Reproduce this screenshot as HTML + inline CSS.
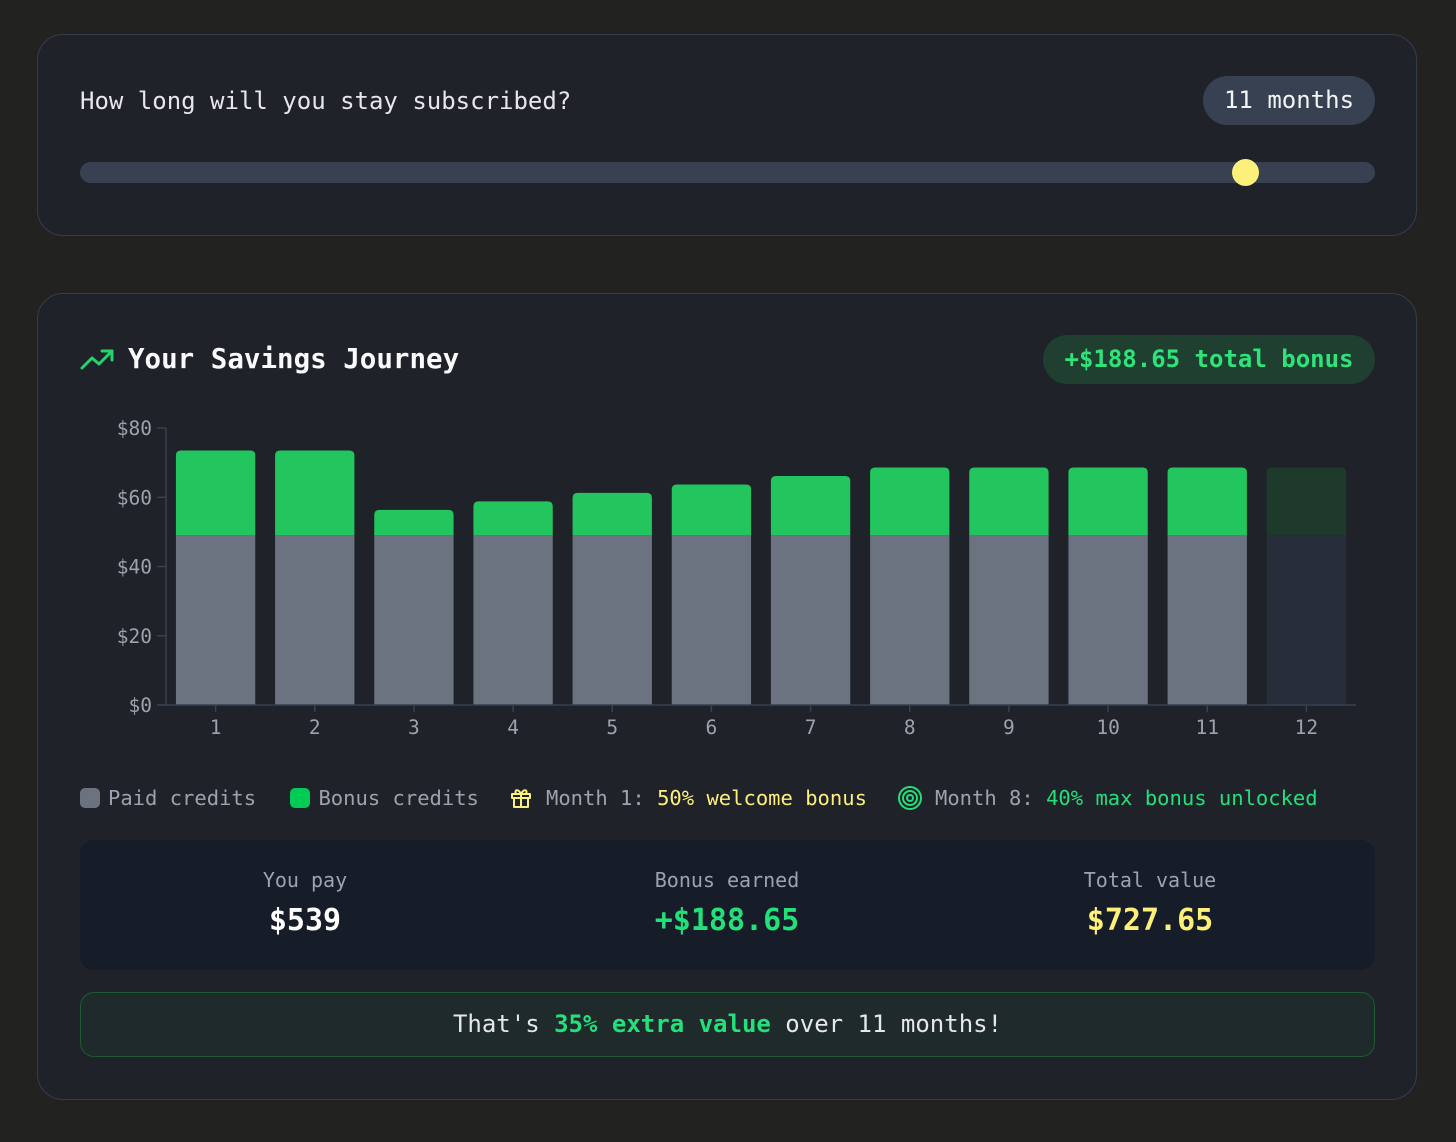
<!DOCTYPE html>
<html><head><meta charset="utf-8">
<style>
*{box-sizing:border-box;margin:0;padding:0}
body{width:1456px;height:1142px;background:#222220;font-family:"DejaVu Sans Mono","Liberation Mono",monospace;color:#e5e7eb;position:relative;overflow:hidden}
.card{position:absolute;left:37px;width:1380px;background:#1f2228;border:1.5px solid #363d4a;border-radius:26px}
.abs{position:absolute}
</style></head><body>
<div class="card" style="top:34px;height:202px">
  <div class="abs" style="left:42px;top:52px;font-size:24px;color:#e5e7eb;white-space:nowrap">How long will you stay subscribed?</div>
  <div class="abs" style="left:1165px;top:41px;width:172px;height:49px;background:#374151;border-radius:25px;font-size:24px;color:#f3f4f6;text-align:center;line-height:49px">11 months</div>
  <div class="abs" style="left:42px;top:127px;width:1295px;height:21px;background:#374151;border-radius:11px"></div>
  <div class="abs" style="left:1194px;top:124px;width:27px;height:27px;background:#fdf07a;border-radius:50%"></div>
</div>

<div class="card" style="top:293px;height:807px">
  <svg class="abs" style="left:42px;top:52px" width="36" height="26" viewBox="0 0 36 26"><polyline points="2,22 12,12 19,18 32,5" fill="none" stroke="#22d46a" stroke-width="3" stroke-linejoin="round" stroke-linecap="round"/><polyline points="22,5 32,5 32,14" fill="none" stroke="#22d46a" stroke-width="3" stroke-linecap="round" stroke-linejoin="round"/></svg>
  <div class="abs" style="left:90px;top:49px;font-size:27.5px;color:#f9fafb;white-space:nowrap;font-weight:600">Your Savings Journey</div>
  <div class="abs" style="left:1005px;top:41px;width:332px;height:49px;background:#1f4030;border-radius:25px;font-size:24px;color:#2ee37a;text-align:center;line-height:49px;font-weight:bold">+$188.65 total bonus</div>
</div>

<svg id="chart" class="abs" style="left:0;top:0" width="1456" height="760"></svg>

<div class="abs" style="left:80px;top:786px;font-size:20.5px;white-space:nowrap;color:#9ca3af;height:24px;line-height:24px">
  <span style="display:inline-block;width:20px;height:20px;background:#6b7280;border-radius:5px;vertical-align:-3px;margin-right:8px"></span><span>Paid credits</span>
  <span style="display:inline-block;width:20px;height:20px;background:#00cc55;border-radius:5px;vertical-align:-3px;margin:0 8px 0 22px"></span><span>Bonus credits</span>
</div>
<svg class="abs" style="left:509px;top:786px" width="24" height="24" viewBox="0 0 24 24" fill="none" stroke="#fdf07a" stroke-width="2" stroke-linejoin="round"><rect x="3" y="8" width="18" height="4"/><rect x="5" y="12" width="14" height="9"/><line x1="12" y1="8" x2="12" y2="21"/><path d="M12 8 C9 2 5 4 7 8 M12 8 C15 2 19 4 17 8"/></svg>
<div class="abs" style="left:546px;top:786px;font-size:20.5px;line-height:24px;white-space:nowrap;color:#9ca3af">Month 1: <span style="color:#fdf07a">50% welcome bonus</span></div>
<svg class="abs" style="left:897px;top:785px" width="26" height="26" viewBox="0 0 26 26" fill="none" stroke="#22e07a" stroke-width="2"><circle cx="13" cy="13" r="11"/><circle cx="13" cy="13" r="7"/><circle cx="13" cy="13" r="3"/></svg>
<div class="abs" style="left:935px;top:786px;font-size:20.5px;line-height:24px;white-space:nowrap;color:#9ca3af">Month 8: <span style="color:#22e07a">40% max bonus unlocked</span></div>

<div class="abs" style="left:80px;top:840px;width:1295px;height:130px;background:#171d28;border-radius:14px">
  <div class="abs" style="left:0;width:450px;top:28px;text-align:center"><div style="font-size:20px;color:#9ca3af">You pay</div><div style="font-size:30px;font-weight:bold;color:#fff;margin-top:11px">$539</div></div>
  <div class="abs" style="left:422px;width:450px;top:28px;text-align:center"><div style="font-size:20px;color:#9ca3af">Bonus earned</div><div style="font-size:30px;font-weight:bold;color:#22e07a;margin-top:11px">+$188.65</div></div>
  <div class="abs" style="left:845px;width:450px;top:28px;text-align:center"><div style="font-size:20px;color:#9ca3af">Total value</div><div style="font-size:30px;font-weight:bold;color:#fdf07a;margin-top:11px">$727.65</div></div>
</div>
<div class="abs" style="left:80px;top:992px;width:1295px;height:65px;background:#1f2a2a;border:1.5px solid #1f5a35;border-radius:14px;font-size:24px;text-align:center;line-height:62px;color:#e5e7eb;white-space:nowrap">That's <b style="color:#22e07a">35% extra value</b> over 11 months!</div>

<script>
const months=["1","2","3","4","5","6","7","8","9","10","11","12"];
const paid=[49,49,49,49,49,49,49,49,49,49,49,49];
const bonus=[24.5,24.5,7.35,9.8,12.25,14.7,17.15,19.6,19.6,19.6,19.6,19.6];
const yTicks=[0,20,40,60,80];
const activeMonths=11;
const svg=document.getElementById('chart');
const NS='http://www.w3.org/2000/svg';
const x0=166,x1=1356,y0=705,y1=428,yMax=80;
const band=(x1-x0)/months.length;
const y=v=>y0-(v/yMax)*(y0-y1);
const xb=i=>x0+i*band;
function mk(t,a){const e=document.createElementNS(NS,t);for(const k in a)e.setAttribute(k,a[k]);svg.appendChild(e);return e;}
const bw=band*0.8;
months.forEach((m,i)=>{
  const on=i<activeMonths;
  const bx=xb(i)+band*0.1;
  const tp=y(paid[i]+bonus[i]);
  const g=mk('path',{d:`M${bx},${y(paid[i])} V${tp+5} Q${bx},${tp} ${bx+5},${tp} H${bx+bw-5} Q${bx+bw},${tp} ${bx+bw},${tp+5} V${y(paid[i])} Z`,fill:on?'#22c55e':'#1d3a2a'});
  
  
  const p=mk('rect',{x:bx,y:y(paid[i]),width:bw,height:y0-y(paid[i]),fill:on?'#6b7280':'#272e39'});
  
  
  const tk=mk('line',{x1:xb(i)+band/2,x2:xb(i)+band/2,y1:y0,y2:y0+7,stroke:'#374151','stroke-width':1.5});
  
  
  const t=mk('text',{x:xb(i)+band/2,y:y0+29,fill:'#9ca3af','font-size':19.5,'text-anchor':'middle','font-family':'DejaVu Sans Mono, monospace'});
  t.textContent=m;
  
  
});
yTicks.forEach(v=>{
  const l=mk('line',{x1:x0-9,x2:x0,y1:y(v),y2:y(v),stroke:'#374151','stroke-width':1.5});
  
  
  const t=mk('text',{x:x0-14,y:y(v)+7,fill:'#9ca3af','font-size':19.5,'text-anchor':'end','font-family':'DejaVu Sans Mono, monospace'});
  t.textContent='$'+v;
  
  
});
const ya=mk('line',{x1:x0,x2:x0,y1:y1,y2:y0,stroke:'#374151','stroke-width':1.5});


const xa=mk('line',{x1:x0-9,x2:x1,y1:y0,y2:y0,stroke:'#374151','stroke-width':1.5});


</script>
</body></html>
